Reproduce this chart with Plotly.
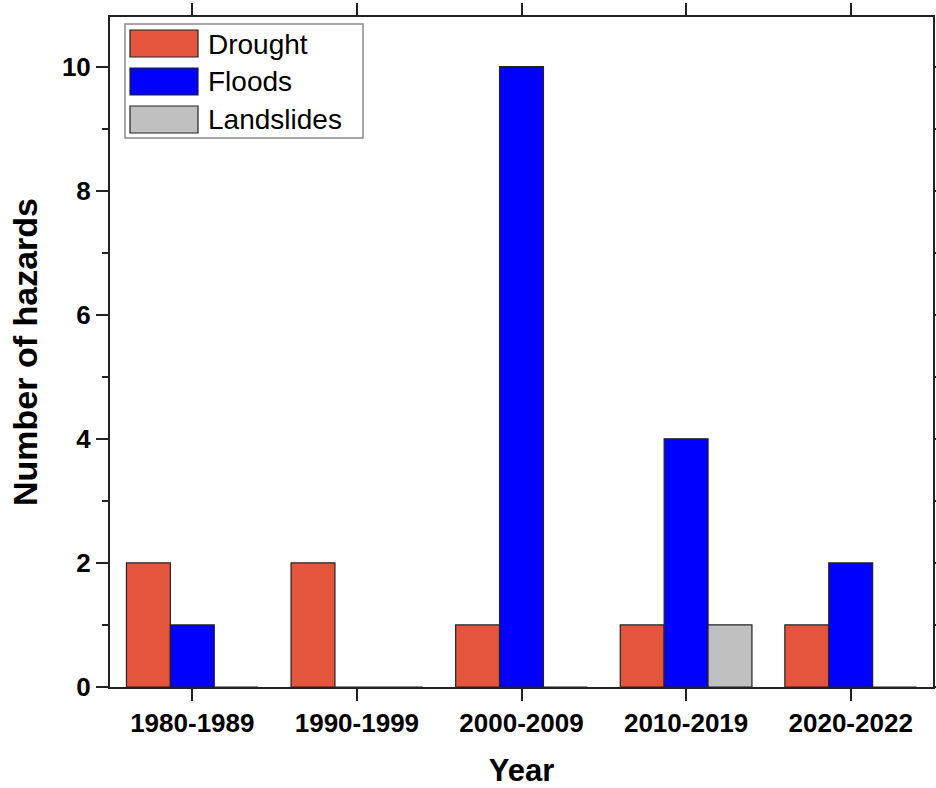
import plotly.graph_objects as go

categories = ["1980-1989", "1990-1999", "2000-2009", "2010-2019", "2020-2022"]
drought = [2, 2, 1, 1, 1]
floods = [1, 0, 10, 4, 2]
landslides = [0, 0, 0, 1, 0]

series_names = ["Drought", "Floods", "Landslides"]
series_colors = ["#E5553D", "#0000FF", "#C0C0C0"]
series_values = [drought, floods, landslides]

FONT = "Liberation Sans, Arial, sans-serif"

fig = go.Figure()
for name, vals, col in zip(series_names, series_values, series_colors):
    fig.add_trace(go.Bar(
        x=categories, y=vals, name=name,
        marker=dict(color=col, line=dict(color="#222222", width=1.2)),
        showlegend=False,
    ))

W, H = 936, 788
L, R, T, B = 110, 3, 17, 101
pw, ph = W - L - R, H - T - B


def px2x(px):
    return (px - L) / pw


def px2y(py):
    return (H - B - py) / ph


shapes = []
annotations = []
# legend box
shapes.append(dict(type="rect", xref="paper", yref="paper",
                   x0=px2x(125), x1=px2x(363), y0=px2y(138), y1=px2y(24),
                   line=dict(color="#8a8a8a", width=1.5), fillcolor="white", layer="above"))
row_tops = [30, 68, 106]
for name, col, top in zip(series_names, series_colors, row_tops):
    shapes.append(dict(type="rect", xref="paper", yref="paper",
                       x0=px2x(130), x1=px2x(198), y0=px2y(top + 27), y1=px2y(top),
                       line=dict(color="#222222", width=1.2), fillcolor=col, layer="above"))
    annotations.append(dict(xref="paper", yref="paper", x=px2x(206), y=px2y(top + 14),
                            text=name, showarrow=False, xanchor="left", yanchor="middle",
                            font=dict(family=FONT, size=28, color="black")))

fig.update_layout(
    width=W, height=H,
    margin=dict(l=L, r=R, t=T, b=B, autoexpand=False),
    paper_bgcolor="white", plot_bgcolor="white",
    barmode="group", bargap=0.2, bargroupgap=0,
    font=dict(family=FONT, color="black"),
    shapes=shapes, annotations=annotations,
)
fig.update_xaxes(
    type="category", range=[-0.5, 4.5], automargin=False,
    showline=True, linecolor="#222222", linewidth=2, mirror="allticks",
    ticks="outside", ticklen=12, tickwidth=2, tickcolor="#222222",
    showgrid=False, zeroline=False,
    tickfont=dict(family=FONT, size=26, weight="bold"),
    title=dict(text="<b>Year</b>", font=dict(family=FONT, size=31), standoff=22),
)
fig.update_yaxes(
    range=[0, 10.8], dtick=2, tick0=0, automargin=False,
    showline=True, linecolor="#222222", linewidth=2, mirror="allticks",
    ticks="outside", ticklen=12, tickwidth=2, tickcolor="#222222",
    minor=dict(dtick=1, ticks="outside", ticklen=6, tickwidth=2, tickcolor="#222222", showgrid=False),
    showgrid=False, zeroline=False,
    tickfont=dict(family=FONT, size=26, weight="bold"),
    title=dict(text="<b>Number of hazards</b>", font=dict(family=FONT, size=34), standoff=14),
)

fig.write_html(
    "out.html",
    config={"displayModeBar": False},
    post_script="document.body.style.margin='0';document.body.style.overflow='hidden';",
)
